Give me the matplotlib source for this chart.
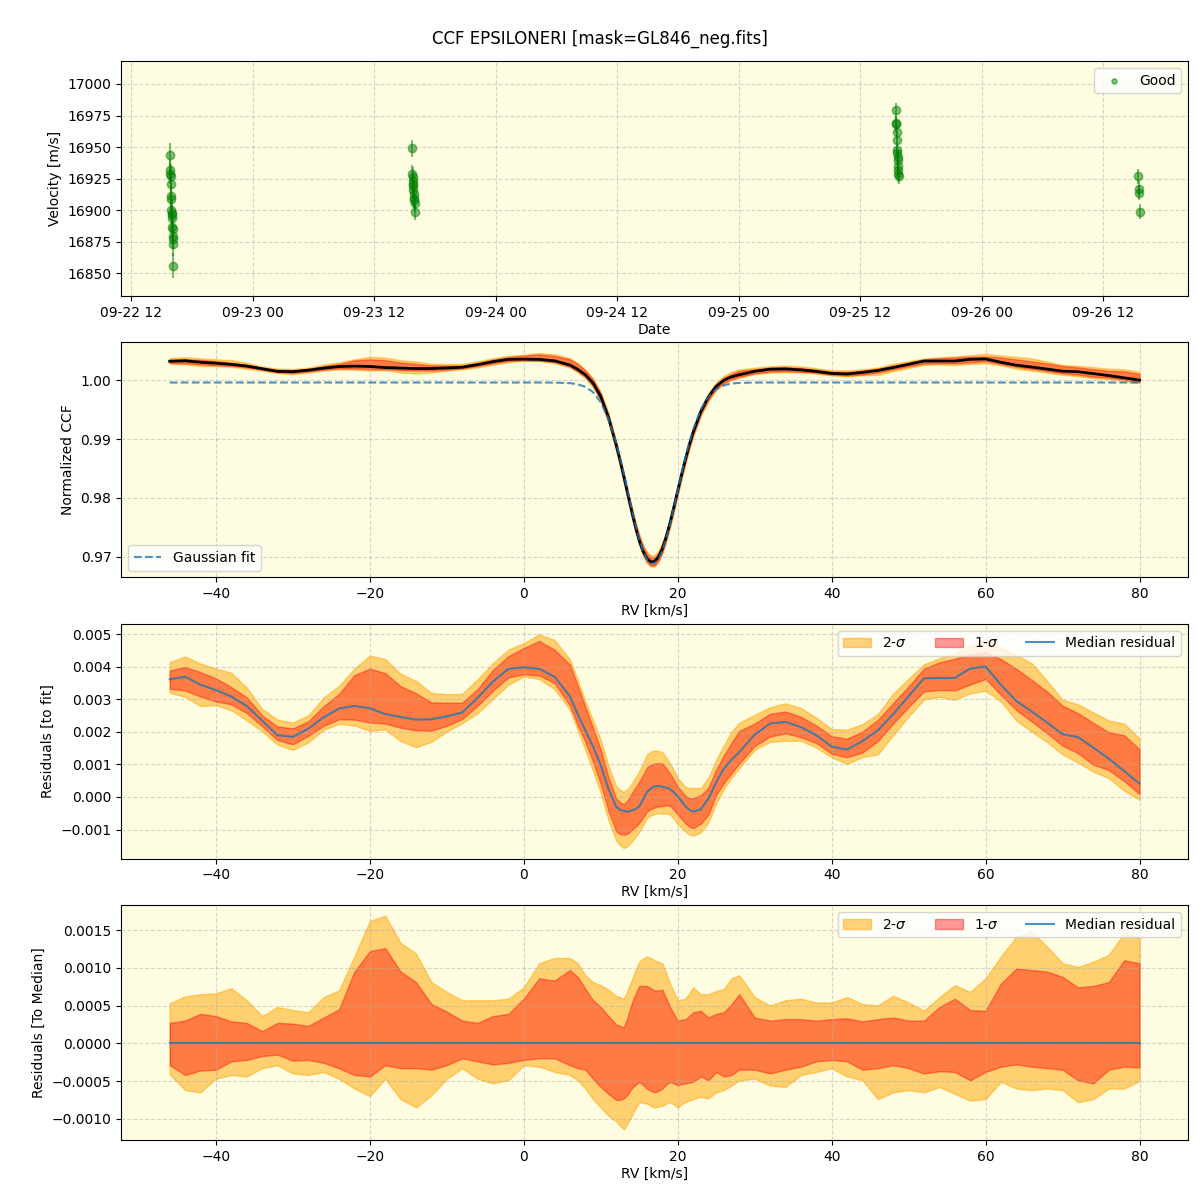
import numpy as np
import pandas as pd
import matplotlib
matplotlib.use('Agg')
import matplotlib.pyplot as plt
import matplotlib.dates as mdates
from matplotlib.ticker import MultipleLocator, FormatStrFormatter

# --- velocity time series (top panel) ---
obs_times = [
    '2023-09-22 15:48', '2023-09-22 15:50', '2023-09-22 15:52', '2023-09-22 15:53', '2023-09-22 15:55',
    '2023-09-22 15:56', '2023-09-22 15:57', '2023-09-22 15:58', '2023-09-22 16:00', '2023-09-22 16:01',
    '2023-09-22 16:02', '2023-09-22 16:03', '2023-09-22 16:05', '2023-09-22 16:06', '2023-09-22 16:08',
    '2023-09-22 16:09', '2023-09-22 16:10',
    '2023-09-23 15:44', '2023-09-23 15:46', '2023-09-23 15:48', '2023-09-23 15:49', '2023-09-23 15:51',
    '2023-09-23 15:52', '2023-09-23 15:53', '2023-09-23 15:55', '2023-09-23 15:56', '2023-09-23 15:58',
    '2023-09-23 15:59', '2023-09-23 16:01',
    '2023-09-25 15:32', '2023-09-25 15:34', '2023-09-25 15:35', '2023-09-25 15:37', '2023-09-25 15:38',
    '2023-09-25 15:39', '2023-09-25 15:40', '2023-09-25 15:42', '2023-09-25 15:43', '2023-09-25 15:44',
    '2023-09-25 15:46', '2023-09-25 15:47', '2023-09-25 15:49',
    '2023-09-26 15:30', '2023-09-26 15:32', '2023-09-26 15:34', '2023-09-26 15:36',
]
obs_vel = [
    16944, 16932, 16929, 16927, 16921, 16911, 16909, 16900, 16898, 16896,
    16894, 16887, 16885, 16880, 16877, 16873, 16856,
    16949, 16929, 16926, 16923, 16921, 16919, 16916, 16913, 16910, 16908,
    16906, 16899,
    16979, 16969, 16968, 16962, 16956, 16948, 16945, 16942, 16940, 16935,
    16932, 16929, 16927,
    16927, 16917, 16914, 16899,
]
obs_err = [
    9, 8, 8, 9, 8, 8, 9, 8, 9, 8, 8, 9, 8, 9, 8, 9, 10,
    7, 7, 8, 7, 7, 8, 7, 7, 8, 7, 7, 7,
    6, 6, 7, 6, 6, 7, 6, 6, 7, 6, 6, 7, 6,
    6, 6, 6, 6,
]

# --- CCF profile grid [km/s] ---
rv = ([-46, -44, -42, -40, -38, -36, -34, -32, -30, -28, -26, -24, -22, -20,
       -18, -16, -14, -12, -10, -8, -6, -4, -2, 0, 2, 4, 6]
      + [7, 8, 9, 10, 11, 12, 12.5, 13, 13.5, 14, 14.5, 15, 15.5, 16, 16.5,
         17, 17.5, 18, 18.5, 19, 19.5, 20, 20.5, 21, 21.5, 22, 23, 24, 25, 26,
         27, 28]
      + [30, 32, 34, 36, 38, 40, 42, 44, 46, 48, 50, 52, 54, 56, 58, 60, 62,
         64, 66, 68, 70, 72, 74, 76, 78, 80])

# gaussian fit values
gauss_fit = ([0.99965] * 25 + [0.99964, 0.99954]
             + [0.99935, 0.99892, 0.99801, 0.99631, 0.99350, 0.98939, 0.98685,
                0.98411, 0.98120, 0.97829, 0.97551, 0.97305, 0.97102, 0.96959,
                0.96885, 0.96885, 0.96959, 0.97102, 0.97305, 0.97551, 0.97829,
                0.98120, 0.98411, 0.98685, 0.98939, 0.99161, 0.99506, 0.99728,
                0.99854, 0.99918, 0.99947, 0.99959]
             + [0.99964] + [0.99965] * 25)

# median residual to fit (units of 1e-4)
med_resid = ([36.2, 37.0, 34.5, 32.9, 30.9, 28.0, 23.5, 19.0, 18.5, 21.0, 24.5,
              27.2, 28.0, 27.3, 25.5, 24.6, 23.8, 23.9, 24.8, 26.0, 30.5, 35.5,
              39.4, 39.9, 39.4, 37.0, 31.0]
             + [25.5, 20.5, 15.5, 9.8, 2.5, -3.0, -3.9, -4.3, -4.5, -4.2, -3.7,
                -2.9, -0.8, 1.5, 2.6, 3.3, 3.4, 3.2, 2.9, 2.4, 1.4, 0.2, -1.3,
                -2.8, -3.9, -4.5, -3.8, -0.5, 4.5, 8.7, 11.5, 13.8]
             + [19.2, 22.6, 23.1, 21.5, 19.0, 15.5, 14.6, 17.2, 20.5, 25.5,
                31.0, 36.5, 36.6, 36.6, 39.5, 40.1, 34.5, 29.5, 26.3, 22.9,
                19.3, 18.4, 15.2, 11.8, 8.0, 4.1])

# band edges relative to median (units of 1e-4)
hi2 = ([5.3, 6.2, 6.5, 6.6, 7.3, 5.7, 3.6, 4.8, 4.4, 4.1, 6.1, 7.0, 11.5, 16.2,
        16.9, 13.3, 11.9, 8.1, 6.8, 5.7, 5.7, 5.7, 5.9, 7.4, 10.6, 11.3, 11.3]
       + [10.6, 9.0, 8.1, 7.7, 7.1, 6.3, 6.1, 5.9, 7.0, 8.3, 9.6, 10.8, 11.2,
          11.5, 11.3, 11.0, 10.8, 10.6, 9.3, 7.9, 6.8, 5.7, 5.8, 5.9, 6.6, 7.4,
          6.5, 6.5, 6.9, 7.2, 8.6, 9.0]
       + [6.1, 5.0, 5.7, 5.9, 5.4, 5.4, 6.1, 5.2, 5.0, 6.3, 5.4, 4.3, 6.1, 7.7,
          6.8, 8.6, 11.5, 14.1, 14.8, 12.8, 10.6, 10.1, 10.8, 11.7, 14.6, 13.9])
hi1 = ([2.7, 3.0, 3.9, 3.6, 2.9, 2.7, 1.6, 2.7, 2.6, 2.3, 3.4, 4.5, 9.5, 12.2,
        12.6, 9.5, 8.1, 5.2, 4.2, 3.0, 2.7, 3.6, 3.9, 5.9, 8.6, 8.3, 9.7]
       + [8.8, 7.2, 5.7, 4.8, 3.6, 2.5, 2.3, 2.1, 3.5, 5.2, 6.5, 7.6, 7.6, 7.6,
          7.3, 7.0, 7.0, 7.1, 6.0, 4.8, 3.9, 3.0, 3.1, 3.2, 3.6, 4.1, 4.3, 3.4,
          3.9, 4.1, 5.2, 6.5]
       + [3.4, 3.0, 3.2, 3.2, 3.0, 3.2, 3.3, 2.9, 3.2, 3.4, 3.0, 3.0, 4.8, 5.9,
          4.4, 4.3, 7.9, 9.9, 9.7, 9.5, 8.8, 7.4, 7.6, 8.1, 11.0, 10.6])
lo1 = ([-2.9, -4.2, -3.6, -3.5, -2.4, -2.2, -1.7, -1.5, -2.3, -2.2, -2.6, -3.3,
        -4.2, -4.4, -2.9, -3.3, -3.3, -3.5, -2.9, -2.0, -2.4, -2.8, -2.6, -2.2,
        -2.0, -2.0, -2.9]
       + [-3.3, -3.5, -4.7, -5.8, -6.7, -7.5, -7.5, -7.3, -6.8, -6.0, -5.5, -5.1,
          -5.5, -6.0, -6.3, -6.5, -6.3, -6.0, -5.5, -5.1, -5.3, -5.6, -5.4, -5.3,
          -5.2, -5.1, -4.4, -4.9, -3.8, -4.4, -4.2, -3.5]
       + [-3.5, -4.0, -3.5, -3.1, -2.4, -2.2, -2.4, -3.5, -3.3, -2.9, -3.3, -4.0,
          -3.7, -3.8, -4.9, -3.8, -3.1, -2.8, -3.1, -3.3, -3.5, -4.9, -5.3, -3.5,
          -3.1, -3.2])
lo2 = ([-4.1, -6.2, -6.5, -4.7, -4.2, -4.4, -3.3, -2.9, -4.0, -4.2, -3.8, -4.7,
        -6.0, -7.0, -4.7, -7.4, -8.5, -6.9, -4.7, -3.3, -4.7, -5.3, -4.9, -2.9,
        -3.1, -3.8, -4.2]
       + [-4.9, -6.0, -7.4, -8.5, -9.6, -10.3, -10.9, -11.4, -10.6, -9.6, -8.7,
          -7.8, -7.9, -8.0, -8.3, -8.5, -8.4, -8.3, -8.0, -7.8, -8.1, -8.5, -8.1,
          -7.8, -7.6, -7.4, -7.1, -7.3, -6.5, -6.2, -5.6, -4.9]
       + [-4.7, -5.6, -5.8, -4.2, -3.8, -3.3, -4.4, -4.9, -7.4, -6.5, -6.2, -6.5,
          -5.8, -6.7, -7.6, -7.4, -5.1, -6.0, -6.2, -6.0, -6.2, -7.8, -7.4, -6.0,
          -6.0, -5.0])


def main():
    x = np.array(rv, dtype=float)
    fit = np.array(gauss_fit)
    med = np.array(med_resid) * 1e-4
    d_hi2 = np.array(hi2) * 1e-4
    d_hi1 = np.array(hi1) * 1e-4
    d_lo1 = np.array(lo1) * 1e-4
    d_lo2 = np.array(lo2) * 1e-4

    bg = '#fefce1'
    fig, axes = plt.subplots(4, 1, figsize=(12, 12))
    fig.subplots_adjust(left=0.101, right=0.99, top=0.949, bottom=0.05, hspace=0.197)
    fig.suptitle('CCF EPSILONERI [mask=GL846_neg.fits]', fontsize=12, y=0.975)

    for ax in axes:
        ax.set_facecolor(bg)
        ax.grid(True, linestyle='--', alpha=0.5)

    # velocities
    ax = axes[0]
    t = pd.to_datetime(obs_times)
    ax.errorbar(t, obs_vel, yerr=obs_err, fmt='o', color='green', alpha=0.5,
                ms=6, elinewidth=1.5)
    ax.scatter([], [], s=14, color='green', alpha=0.5, label='Good')
    ax.xaxis.set_major_locator(mdates.HourLocator(byhour=[0, 12]))
    ax.xaxis.set_major_formatter(mdates.DateFormatter('%m-%d %H'))
    ax.set_ylim(16832, 17018)
    ax.yaxis.set_major_locator(MultipleLocator(25))
    ax.set_xlabel('Date', labelpad=2)
    ax.set_ylabel('Velocity [m/s]')
    ax.legend(loc='upper right')

    # normalized CCF
    ax = axes[1]
    ax.fill_between(x, fit + med + d_lo2, fit + med + d_hi2, color='orange', alpha=0.5)
    ax.fill_between(x, fit + med + d_lo1, fit + med + d_hi1, color='red', alpha=0.4)
    ax.plot(x, fit + med, color='black', lw=2)
    ax.plot(x, fit, '--', color='tab:blue', alpha=0.8, lw=1.5, label='Gaussian fit')
    ax.yaxis.set_major_locator(MultipleLocator(0.01))
    ax.yaxis.set_major_formatter(FormatStrFormatter('%.2f'))
    ax.set_xlabel('RV [km/s]', labelpad=2)
    ax.set_ylabel('Normalized CCF')
    ax.legend(loc='lower left')

    # residuals to fit
    ax = axes[2]
    ax.fill_between(x, med + d_lo2, med + d_hi2, color='orange', alpha=0.5, label='2-$\\sigma$')
    ax.fill_between(x, med + d_lo1, med + d_hi1, color='red', alpha=0.4, label='1-$\\sigma$')
    ax.plot(x, med, color='tab:blue', alpha=0.8, lw=1.5, label='Median residual')
    ax.set_xlabel('RV [km/s]', labelpad=2)
    ax.set_ylabel('Residuals [to fit]')
    ax.legend(loc='upper right', ncol=3)

    # residuals to median
    ax = axes[3]
    ax.fill_between(x, d_lo2, d_hi2, color='orange', alpha=0.5, label='2-$\\sigma$')
    ax.fill_between(x, d_lo1, d_hi1, color='red', alpha=0.4, label='1-$\\sigma$')
    ax.plot(x, np.zeros_like(x), color='tab:blue', alpha=0.8, lw=1.5, label='Median residual')
    ax.set_xlabel('RV [km/s]', labelpad=2)
    ax.set_ylabel('Residuals [To Median]')
    ax.legend(loc='upper right', ncol=3)

    fig.savefig('out.png', dpi=100)


if __name__ == '__main__':
    main()
